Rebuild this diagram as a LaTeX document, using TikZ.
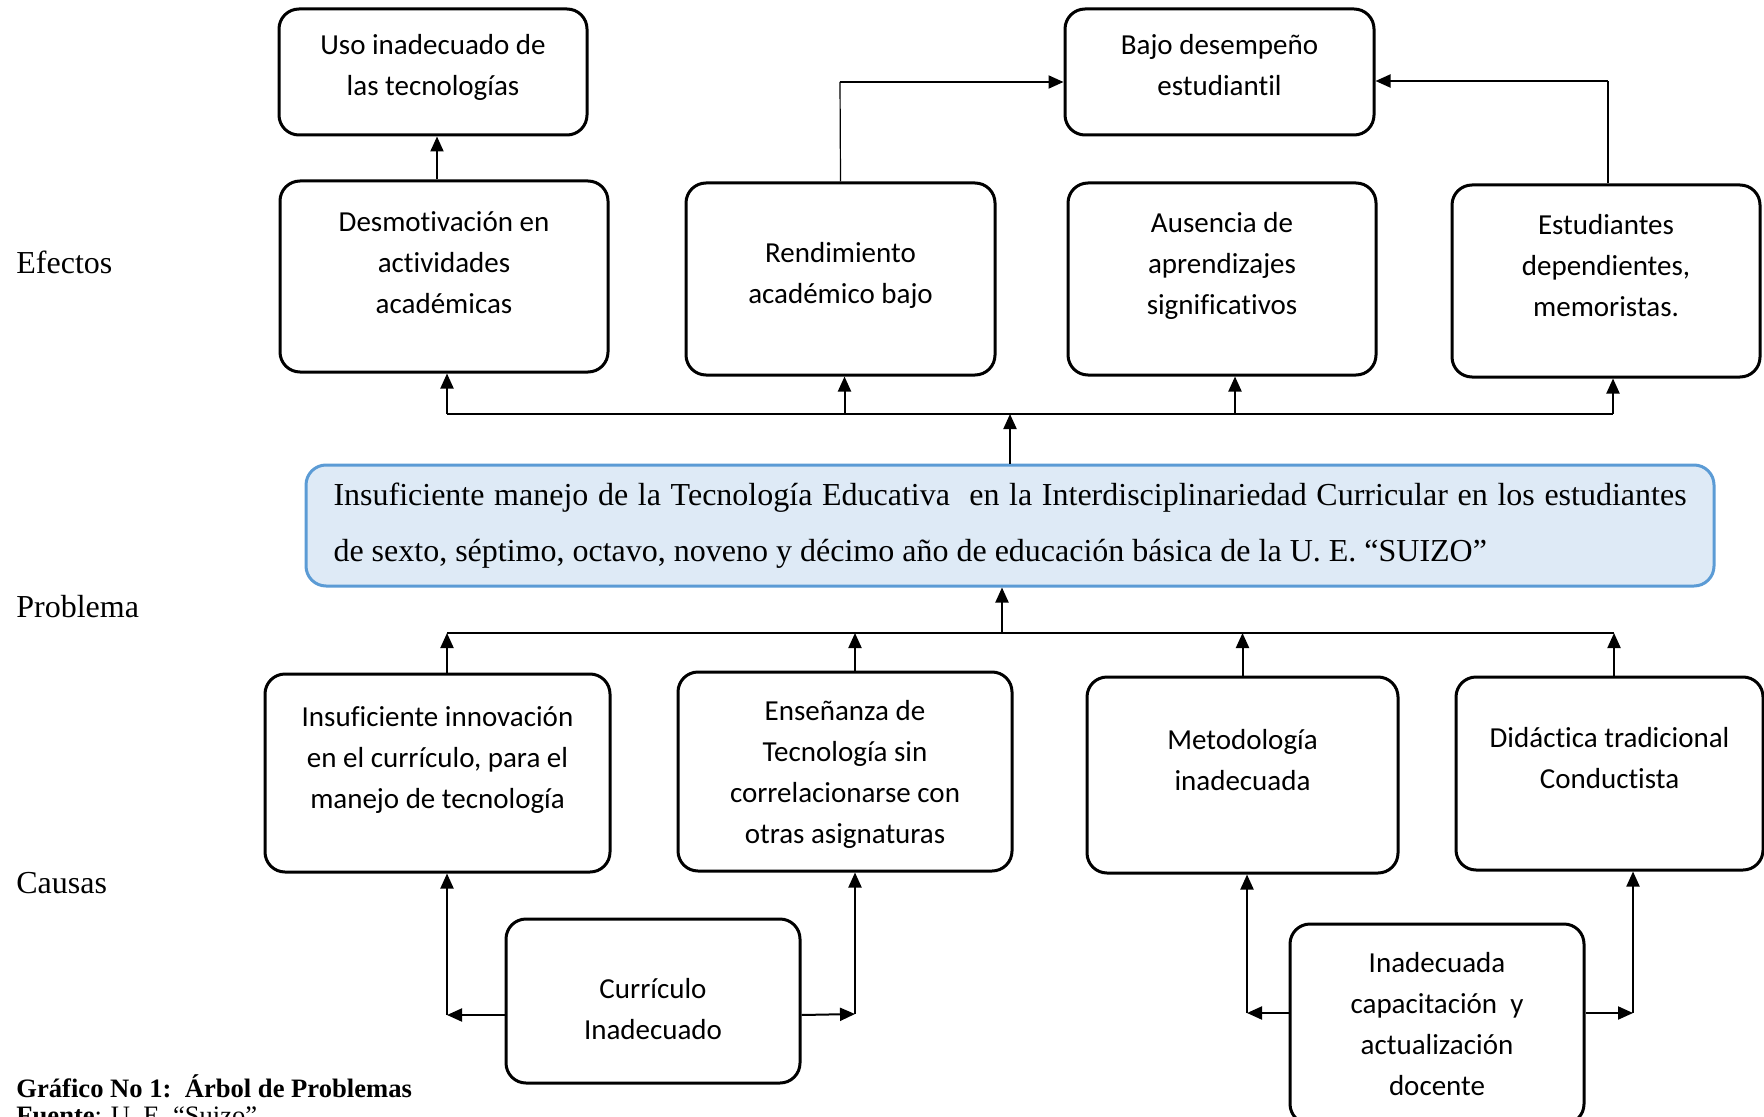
\documentclass[tikz,border=0pt]{standalone}
\usepackage{fontspec}
\setmainfont{Liberation Serif}
\newfontfamily\boxfont[Ligatures=CommonOff]{Carlito}
\usetikzlibrary{positioning}
\usetikzlibrary{arrows.meta}
\definecolor{probfill}{HTML}{DEEAF6}
\definecolor{probline}{HTML}{5B9BD5}

\begin{document}
\begin{tikzpicture}[
                          x=0.5pt, y=-0.5pt,
                          >={Triangle[length=7.5pt,width=6.5pt]},
                          box/.style={rectangle, draw, rounded corners=10pt, line width=1.5pt, inner sep=0pt},
                          txt/.style={align=center, font=\boxfont\fontsize{14.5}{20.5}\selectfont},
                          probbox/.style={rectangle, draw=probline, fill=probfill, rounded corners=10pt, line width=1.5pt, text width=676.5pt, inner xsep=13.75pt, minimum height=60.5pt, align=justify, font=\fontsize{16}{28}\selectfont},
                          tag/.style={anchor=west, inner sep=0pt, font=\fontsize{16}{19}\selectfont},
                          caption/.style={anchor=base west, inner sep=0pt, font=\fontsize{13.3}{15}\selectfont},
                          conn/.style={line width=1pt},
                          thinconn/.style={line width=0.6pt},
                      ]
                      \useasboundingbox (0,0) rectangle (1764,1117);

                      % Nodes
                      \node[tag]      (efectos)   at (16,262)   {Efectos};
                      \node[tag]      (problema)  at (16,607)   {Problema};
                      \node[tag]      (causas)    at (16,883)   {Causas};

                      \node[box, minimum width=154pt, minimum height=63pt, label={[txt,yshift=2.25pt]center:{Uso inadecuado de\\las tecnologías}}]  (uso)   at (433,72)     {};
                      \node[box, minimum width=154.5pt, minimum height=63pt, label={[txt,yshift=3.25pt]center:{Bajo desempeño\\estudiantil}}]  (bajo)  at (1219.5,72)  {};

                      \node[box, minimum width=164pt, minimum height=95.5pt, label={[txt,yshift=7pt]center:{Desmotivación en\\actividades\\académicas}}]  (desmot)  at (444,276.5)  {};
                      \node[box, minimum width=154.5pt, minimum height=96pt, label={[txt,yshift=2pt]center:{Rendimiento\\académico bajo}}]  (rend)  at (840.5,279)  {};
                      \node[box, minimum width=154pt, minimum height=96pt, label={[txt,yshift=6.5pt]center:{Ausencia de\\aprendizajes\\significativos}}]  (ausen)  at (1222,279)  {};
                      \node[box, minimum width=154pt, minimum height=96pt, label={[txt,yshift=7.5pt]center:{Estudiantes\\dependientes,\\memoristas.}}]  (estud)  at (1606,281)  {};

                      \node[probbox]  (prob)  at (1010,525.5)  {Insuficiente manejo de la Tecnología Educativa\ \ en la Interdisciplinariedad Curricular en los estudiantes\linebreak \mbox{de sexto, séptimo, octavo, noveno y décimo año de educación básica de la U. E. “SUIZO”}};

                      \node[box, minimum width=172.5pt, minimum height=99pt, label={[txt,yshift=6.5pt]center:{Insuficiente innovación\\en el currículo, para el\\manejo de tecnología}}]  (insuf)  at (437.5,773)  {};
                      \node[box, minimum width=167pt, minimum height=99.5pt, label={[txt,yshift=-1.5pt]center:{Enseñanza de\\Tecnología sin\\correlacionarse con\\otras asignaturas}}]  (ensen)  at (845,771.5)  {};
                      \node[box, minimum width=155.5pt, minimum height=98pt, label={[txt,yshift=7.5pt]center:{Metodología\\inadecuada}}]  (metod)  at (1242.5,775)  {};
                      \node[box, minimum width=153.5pt, minimum height=96.5pt, label={[txt,yshift=7.5pt]center:{Didáctica tradicional\\Conductista}}]  (didac)  at (1609.5,773.5)  {};

                      \node[box, minimum width=147pt, minimum height=82pt, label={[txt,yshift=-4pt]center:{Currículo\\Inadecuado}}]  (curr)  at (653,1001)  {};
                      \node[box, minimum width=147pt, minimum height=100pt, label={[txt]center:{Inadecuada\\capacitación\ \ y\\actualización\\docente}}]  (inad)  at (1437,1024)  {};

                      \node[caption]  (cap_title)   at (16,1097)  {\textbf{Gráfico No 1:\ \ Árbol de Problemas}};
                      \node[caption]  (cap_source)  at (16,1124)  {\textbf{Fuente}: U. E. “Suizo”};

                      % Points
                      \coordinate (ebus_l) at (447,414);
                      \coordinate (ebus_r) at (1613,414);
                      \coordinate (cbus_l) at (447,633);
                      \coordinate (cbus_r) at (1614,633);
                      \coordinate (rend_top) at (840,82);
                      \coordinate (estud_top) at (1608,81);
                      \coordinate (curr_l) at (447,1015);
                      \coordinate (curr_r) at (855,1014);
                      \coordinate (inad_l) at (1247,1013);
                      \coordinate (inad_r) at (1633,1013);

                      %Lines
                      \draw[->, conn] ([xshift=2pt]uso.south |- desmot.north) -- ([xshift=2pt]uso.south);
                      \draw[thinconn] (rend.north) -- (rend_top);
                      \draw[->, conn] (rend_top) -- (rend_top -| bajo.west);
                      \draw[thinconn] (estud.north -| estud_top) -- (estud_top);
                      \draw[->, conn] (estud_top) -- (estud_top -| bajo.east);

                      \draw[conn] (ebus_l) -- (ebus_r);
                      \draw[->, conn] (prob.north) -- (prob.north |- ebus_l);
                      \draw[->, conn] (ebus_l) -- (ebus_l |- desmot.south);
                      \draw[->, conn] ([xshift=2pt]rend.south |- ebus_l) -- ([xshift=2pt]rend.south);
                      \draw[->, conn] ([xshift=6.5pt]ausen.south |- ebus_l) -- ([xshift=6.5pt]ausen.south);
                      \draw[->, conn] (ebus_r) -- (ebus_r |- estud.south);

                      \draw[conn] (cbus_l) -- (cbus_r);
                      \draw[->, conn] ([xshift=-4pt]prob.south |- cbus_l) -- ([xshift=-4pt]prob.south);
                      \draw[->, conn] (cbus_l |- insuf.north) -- (cbus_l);
                      \draw[->, conn] ([xshift=5pt]ensen.north) -- ([xshift=5pt]ensen.north |- cbus_l);
                      \draw[->, conn] (metod.north) -- (metod.north |- cbus_l);
                      \draw[->, conn] (cbus_r |- didac.north) -- (cbus_r);

                      \draw[->, conn] ([yshift=-7pt]curr.west) -- (curr_l);
                      \draw[->, conn] (curr_l) -- (curr_l |- insuf.south);
                      \draw[->, conn] ([yshift=-7pt]curr.east) -- (curr_r);
                      \draw[->, conn] (curr_r) -- (curr_r |- ensen.south);
                      \draw[->, conn] ([yshift=5.5pt]inad.west) -- (inad_l);
                      \draw[->, conn] (inad_l) -- (inad_l |- metod.south);
                      \draw[->, conn] ([yshift=5.5pt]inad.east) -- (inad_r);
                      \draw[->, conn] (inad_r) -- (inad_r |- didac.south);
                  \end{tikzpicture}
\end{document}
